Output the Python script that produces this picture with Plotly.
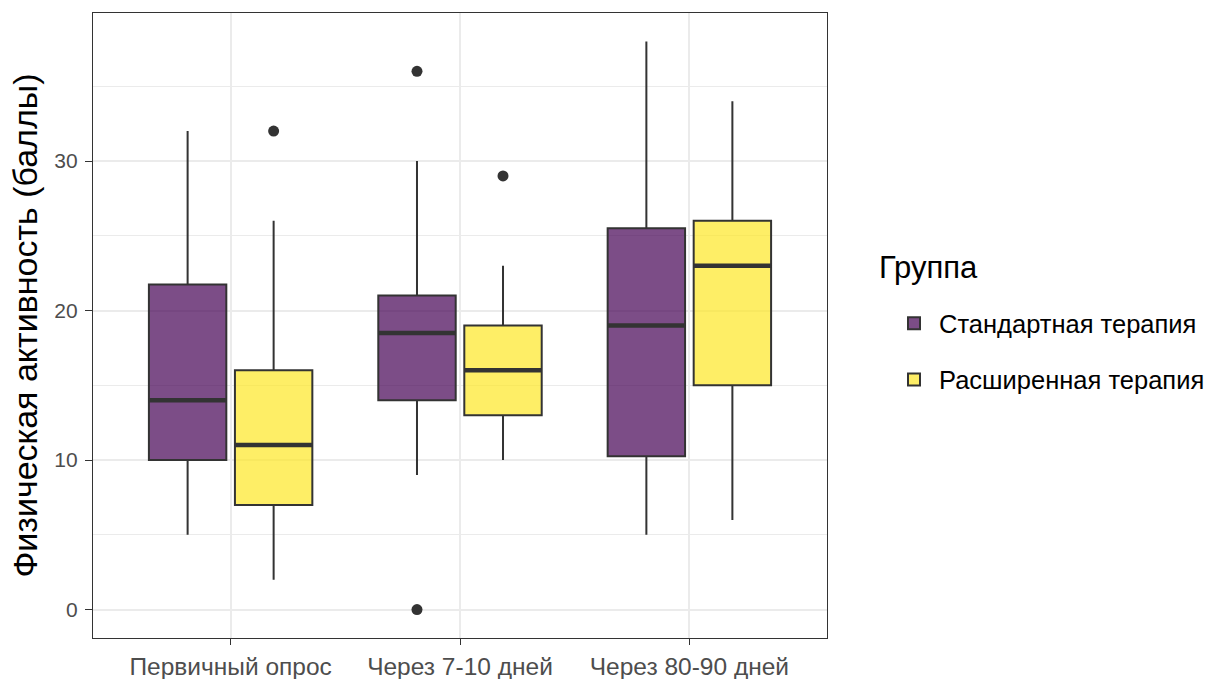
import plotly.graph_objects as go

categories = ["Первичный опрос", "Через 7-10 дней", "Через 80-90 дней"]
groups = ["Стандартная терапия", "Расширенная терапия"]
legend_title = "Группа"
y_title = "Физическая активность (баллы)"

std_lower = [5, 9, 5]
std_q1 = [10, 14, 10.25]
std_median = [14, 18.5, 19]
std_q3 = [21.75, 21, 25.5]
std_upper = [32, 30, 38]
std_outliers = [[None, None], [36, 0], [None, None]]

ext_lower = [2, 10, 6]
ext_q1 = [7, 13, 15]
ext_median = [11, 16, 23]
ext_q3 = [16, 19, 26]
ext_upper = [26, 23, 34]
ext_outliers = [[32], [29], [None]]

fills = ["rgba(68,1,84,0.7)", "rgba(253,231,37,0.7)"]
line_col = "#333333"

fig = go.Figure()
series = [
    (groups[0], std_lower, std_q1, std_median, std_q3, std_upper, std_outliers, fills[0]),
    (groups[1], ext_lower, ext_q1, ext_median, ext_q3, ext_upper, ext_outliers, fills[1]),
]
for k, (name, lo, q1, med, q3, up, outs, fc) in enumerate(series):
    fig.add_trace(go.Box(
        name=name, x=categories, y=outs, offsetgroup=f"g{k}", legendgroup=f"g{k}",
        q1=q1, median=med, q3=q3, lowerfence=lo, upperfence=up,
        boxpoints="all", jitter=0, pointpos=0,
        fillcolor=fc, line=dict(color=line_col, width=2),
        marker=dict(color=line_col, size=11),
        whiskerwidth=0, hoverinfo="skip",
    ))
for k, (name, lo, q1, med, q3, up, outs, fc) in enumerate(series):
    # thick median bar (ggplot fatten)
    fig.add_trace(go.Box(
        name=name, x=categories, offsetgroup=f"g{k}", legendgroup=f"g{k}", showlegend=False,
        q1=med, median=med, q3=med, lowerfence=med, upperfence=med,
        boxpoints=False, fillcolor="rgba(0,0,0,0)", line=dict(color=line_col, width=4.5),
        whiskerwidth=0, hoverinfo="skip",
    ))

grid = "#EBEBEB"
fig.update_layout(
    width=1208, height=679,
    margin=dict(l=93, r=381, t=13, b=41, autoexpand=False),
    paper_bgcolor="white", plot_bgcolor="white",
    boxmode="group", boxgap=0.25, boxgroupgap=0.1,
    font=dict(family="Liberation Sans, Arial, sans-serif", color="black"),
    showlegend=True,
    legend=dict(
        font=dict(size=25.5), x=1.0845, xanchor="left", y=0.458, yanchor="middle",
        tracegroupgap=20, itemwidth=40,
    ),
    annotations=[dict(
        text=legend_title, xref="paper", yref="paper", x=1.068, y=0.5936,
        xanchor="left", yanchor="middle", showarrow=False, font=dict(size=31, color="black"),
    )],
    xaxis=dict(
        type="category", range=[-0.6, 2.6], automargin=False,
        showgrid=True, gridcolor=grid, gridwidth=1.5,
        showline=True, linecolor=line_col, linewidth=1.3, mirror=True,
        ticks="outside", ticklen=6, tickcolor=line_col, tickwidth=1.3,
        tickfont=dict(size=24.5, color="#4D4D4D"), zeroline=False, ticklabelstandoff=0,
    ),
    yaxis=dict(
        range=[-1.9, 39.9], tickvals=[0, 10, 20, 30], automargin=False,
        showgrid=True, gridcolor=grid, gridwidth=1.5,
        minor=dict(tickvals=[5, 15, 25, 35], showgrid=True, gridcolor=grid, gridwidth=0.8),
        showline=True, linecolor=line_col, linewidth=1.3, mirror=True,
        ticks="outside", ticklen=7, tickcolor=line_col, tickwidth=1.3,
        tickfont=dict(size=21, color="#4D4D4D"), zeroline=False, ticklabelstandoff=3,
        title=dict(text=y_title, font=dict(size=34), standoff=6),
    ),
)

fig.write_html("out.html", config={"displayModeBar": False},
               post_script="document.body.style.margin='0';")
